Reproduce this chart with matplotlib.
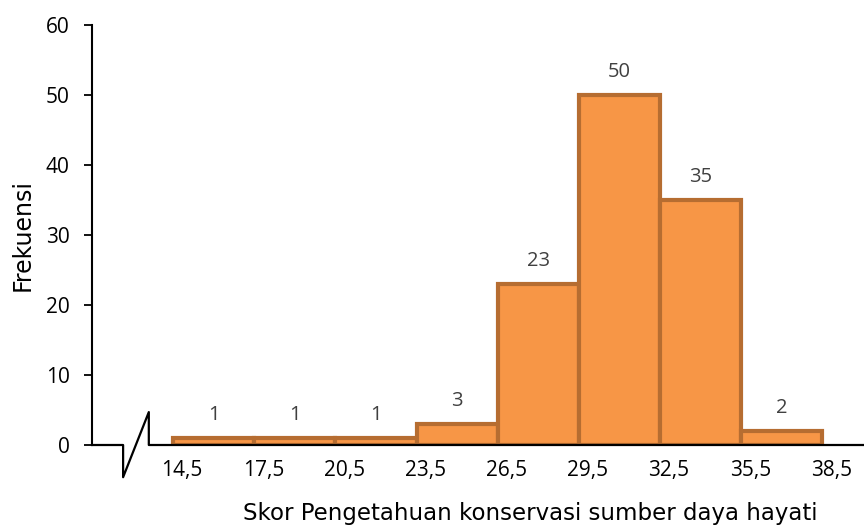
import matplotlib
matplotlib.use("Agg")
import matplotlib.pyplot as plt
from matplotlib.lines import Line2D

# Class boundaries and frequencies
boundaries = [14.5, 17.5, 20.5, 23.5, 26.5, 29.5, 32.5, 35.5, 38.5]
boundary_labels = ["14,5", "17,5", "20,5", "23,5", "26,5", "29,5", "32,5", "35,5", "38,5"]
frequencies = [1, 1, 1, 3, 23, 50, 35, 2]

fig = plt.figure(figsize=(8.64, 5.29), dpi=100)
ax = fig.add_axes([92 / 864, 1 - 445 / 529, 771 / 864, 420 / 529])

lefts = boundaries[:-1]
widths = [b - a for a, b in zip(boundaries[:-1], boundaries[1:])]
ax.bar(lefts, frequencies, width=widths, align="edge",
       color="#F79646", edgecolor="#B66D31", linewidth=3.0, zorder=2)

# Frequency labels above each bar
for left, w, f in zip(lefts, widths, frequencies):
    ax.annotate(str(f), (left + w / 2, f), xytext=(0, 18), textcoords="offset pixels",
                ha="center", va="baseline", fontsize=14.5, color="#404040",
                family="Open Sans")

ax.set_xlim(11.5, 40.0)
ax.set_ylim(0, 60)
ax.set_yticks(range(0, 61, 10))
ax.tick_params(axis="y", direction="out", length=6, width=1.3, labelsize=15, pad=10)
for lbl in ax.get_yticklabels():
    lbl.set_family("Open Sans")

# Boundary values along the horizontal axis
ax.set_xticks([])
for b, txt in zip(boundaries, boundary_labels):
    ax.annotate(txt, (b, 0), xytext=(9, -31), textcoords="offset pixels",
                ha="center", va="baseline", fontsize=15, color="black",
                family="Open Sans", annotation_clip=False)

for s in ["top", "right", "bottom"]:
    ax.spines[s].set_visible(False)
ax.spines["left"].set_linewidth(1.5)

# Horizontal axis with a break mark near the origin
bx = [11.5, 12.65, 12.65, 13.6, 13.6, 40.0]
by = [0, 0, -4.6, 4.7, 0, 0]
ax.add_line(Line2D(bx, by, color="black", linewidth=1.6, clip_on=False, zorder=5))

fig.text(23 / 864, 1 - 235 / 529, "Frekuensi", rotation=90, ha="center", va="center",
         fontsize=17, family="DejaVu Sans")
fig.text(530 / 864, 1 - 520 / 529, "Skor Pengetahuan konservasi sumber daya hayati",
         ha="center", va="baseline", fontsize=16.5, family="DejaVu Sans")

fig.savefig("out.png", dpi=100)
